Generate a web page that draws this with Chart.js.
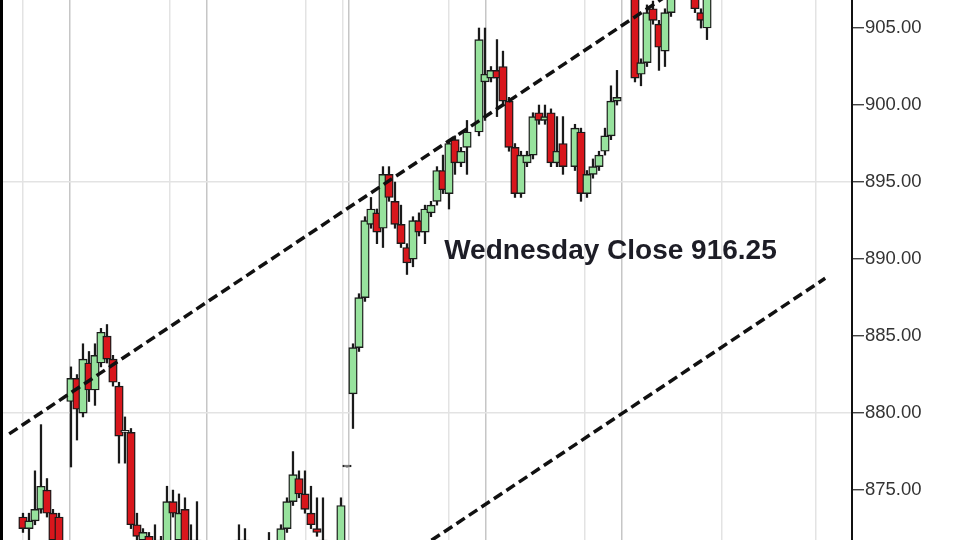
<!DOCTYPE html>
<html>
<head>
<meta charset="utf-8">
<script src="https://cdn.jsdelivr.net/npm/chart.js@4.4.0/dist/chart.umd.min.js"></script>
<style>
  html, body { margin: 0; padding: 0; background: #fff; }
  #wrap { width: 960px; height: 540px; position: relative; }
</style>
</head>
<body>
<div id="wrap"><canvas id="chart"></canvas></div>
<script>
// bar number (one bar per time step, gaps where the bars are missing)
const times = [
  0, 1, 2, 3, 4, 5, 6,
  8, 9, 10, 11, 12, 13, 14, 15, 16, 17, 18, 19, 20, 21, 22, 23, 24, 25, 26, 27, 28, 29,
  36, 37,
  41, 43, 44, 45, 46, 47, 48, 49, 50,
  53, 54, 55, 56, 57, 58, 59, 60, 61, 62,
  63, 64, 65, 66, 67, 68, 69, 70, 71, 72, 73, 74,
  76, 77, 78, 79, 80, 81, 82, 83, 84, 85, 86, 87, 88, 89, 90,
  92, 93, 94, 95, 96, 97, 98, 99,
  102, 103, 104, 105, 106, 107, 108,
  112, 113, 114
];
const opens = [
  873.25, 872.5, 873.0, 873.75, 875.0, 873.5, 873.25,
  880.75, 882.25, 880.0, 883.25, 881.5, 883.25, 885.0, 883.5, 881.75, 878.75, 878.75, 872.75, 871.75, 872.0, 871.0, 871.75, 871.25, 874.25, 871.75, 873.75, 871.25, 871.75,
  871.75, 871.75,
  871.0, 871.25, 872.5, 874.25, 875.75, 874.75, 873.5, 872.5, 871.75,
  871.25, 876.5, 881.25, 884.25, 887.5, 892.25, 893.0, 892.0, 895.5, 893.75,
  892.25, 890.75, 890.0, 892.5, 891.75, 893.0, 893.75, 895.75, 894.25, 897.75, 896.25, 897.25,
  898.25, 901.5, 901.75, 902.25, 902.5, 900.25, 897.25, 894.25, 896.25, 896.75, 899.5, 899.0, 899.5, 896.25, 897.5,
  896.0, 898.25, 894.25, 895.5, 896.0, 897.0, 898.0, 900.25,
  907.0, 902.0, 902.75, 906.25, 905.25, 903.5, 906.0,
  907.0, 906.0, 905.0
];
const highs = [
  873.5, 873.5, 876.25, 879.25, 875.75, 873.75, 873.5,
  883.0, 882.5, 884.5, 884.0, 884.5, 885.5, 885.75, 883.75, 882.0, 879.75, 879.0, 873.5, 872.5, 872.25, 872.75, 872.0, 875.25, 875.0, 874.75, 874.5, 872.75, 874.25,
  872.75, 872.5,
  872.25, 872.75, 874.5, 877.5, 876.25, 876.25, 875.25, 874.5, 874.5,
  874.5, 876.5, 884.5, 887.75, 892.75, 894.0, 893.25, 896.0, 896.0, 895.0,
  893.5, 891.0, 892.75, 893.0, 893.5, 893.75, 896.0, 896.75, 897.75, 898.0, 897.25, 899.0,
  905.0, 905.0, 902.5, 904.25, 903.5, 900.5, 897.5, 897.0, 897.0, 899.5, 900.0, 900.0, 899.75, 899.25, 899.25,
  898.75, 898.5, 895.75, 896.5, 897.0, 898.5, 901.25, 902.25,
  907.25, 903.0, 906.5, 906.75, 905.5, 906.25, 907.5,
  907.25, 906.25, 907.25
];
const lows = [
  872.25, 871.75, 872.75, 873.5, 873.25, 871.5, 870.5,
  876.5, 878.25, 879.75, 880.75, 880.5, 883.0, 883.25, 881.75, 876.75, 876.75, 872.5, 871.75, 871.5, 871.0, 870.75, 871.0, 871.0, 873.25, 871.5, 871.25, 871.0, 871.0,
  871.25, 871.0,
  870.75, 871.0, 872.25, 874.0, 874.5, 873.5, 872.5, 872.0, 871.0,
  871.0, 876.5, 879.0, 884.0, 887.25, 892.0, 891.0, 890.75, 893.75, 892.0,
  890.75, 889.0, 889.5, 891.5, 891.0, 892.75, 893.5, 894.25, 893.25, 895.5, 896.0, 895.5,
  898.0, 899.0, 901.5, 899.25, 900.0, 897.0, 894.0, 894.0, 896.0, 896.5, 898.75, 898.75, 896.0, 896.0, 895.5,
  895.75, 893.75, 894.0, 895.25, 895.75, 896.75, 897.75, 900.0,
  901.5, 901.25, 902.5, 905.25, 902.25, 902.5, 905.75,
  906.0, 905.0, 904.25
];
const closes = [
  872.5, 873.0, 873.75, 875.25, 873.5, 871.75, 870.75,
  882.25, 880.25, 883.5, 881.5, 883.75, 885.25, 883.5, 882.0, 878.5, 878.75, 872.75, 872.0, 872.25, 871.25, 871.5, 871.25, 874.25, 873.5, 873.5, 871.5, 871.75, 871.25,
  871.5, 871.5,
  871.25, 872.5, 874.25, 876.0, 874.75, 873.75, 872.75, 872.25, 871.25,
  874.0, 876.5, 884.25, 887.5, 892.5, 893.25, 891.75, 895.5, 894.0, 892.25,
  891.0, 889.75, 892.5, 891.75, 893.25, 893.5, 895.75, 894.5, 897.5, 896.25, 897.0, 898.25,
  904.25, 902.0, 902.25, 901.75, 900.25, 897.25, 894.25, 896.75, 896.75, 899.25, 899.0, 899.25, 896.25, 897.0, 896.0,
  898.5, 894.25, 895.5, 896.0, 896.75, 898.0, 900.25, 900.5,
  901.75, 902.75, 906.0, 905.5, 903.75, 906.0, 907.0,
  906.25, 905.5, 907.0
];

// channel lines (start / end points)
const upperTimes = [-2.3, 110];
const upperPrices = [878.65, 907.8];
const lowerTimes = [66, 133.7];
const lowerPrices = [871.2, 888.75];

const yTicks = [875, 880, 885, 890, 895, 900, 905];
const yGridPrices = [880, 895];
const gridTimes = [0, 7.8, 24.5, 30.7, 47.2, 53.3, 54.3, 71, 77.2, 93.7, 99.8, 116.5, 132.2];
const sessionTimes = [7.8, 30.7, 54.3, 77.2, 99.8];

const noteText = "Wednesday Close 916.25";
const noteTime = 70.2;
const notePrice = 890.0;

Chart.defaults.font.family = "'Liberation Sans', Arial, sans-serif";

const wickData = times.map((t, i) => ({ x: t, y: [lows[i], highs[i]] }));
const bodyData = times.map((t, i) => ({ x: t, y: [opens[i], closes[i]] }));
const bodyColors = times.map((t, i) => {
  if (closes[i] > opens[i]) return "#97e29d";
  if (closes[i] < opens[i]) return "#d8161c";
  return "#ffffff";
});

const notePlugin = {
  id: "note",
  afterDatasetsDraw(chart) {
    const { ctx, chartArea, scales } = chart;
    ctx.save();
    ctx.font = "bold 28px 'Liberation Sans', Arial, sans-serif";
    ctx.fillStyle = "#1d1d26";
    ctx.textBaseline = "alphabetic";
    ctx.fillText(noteText, scales.x.getPixelForValue(noteTime), scales.y.getPixelForValue(notePrice));
    // left frame edge
    ctx.fillStyle = "#000";
    ctx.fillRect(0, chartArea.top, 3, chartArea.bottom - chartArea.top);
    ctx.restore();
  }
};

new Chart(document.getElementById("chart"), {
  type: "bar",
  data: {
    datasets: [
      {
        data: wickData,
        backgroundColor: "#1a1a1a",
        barThickness: 1.6,
        grouped: false,
        order: 2
      },
      {
        data: bodyData,
        backgroundColor: bodyColors,
        borderColor: "#1a1a1a",
        borderWidth: 1.4,
        borderSkipped: false,
        barThickness: 8.5,
        minBarLength: 2,
        grouped: false,
        order: 1
      },
      {
        type: "line",
        data: upperTimes.map((t, i) => ({ x: t, y: upperPrices[i] })),
        borderColor: "#111",
        borderWidth: 3.5,
        borderDash: [10, 5],
        pointRadius: 0,
        order: 0
      },
      {
        type: "line",
        data: lowerTimes.map((t, i) => ({ x: t, y: lowerPrices[i] })),
        borderColor: "#111",
        borderWidth: 3.5,
        borderDash: [10, 5],
        pointRadius: 0,
        order: 0
      }
    ]
  },
  options: {
    responsive: true,
    maintainAspectRatio: false,
    animation: false,
    events: [],
    layout: { padding: { left: 3, top: 0, right: 0, bottom: 0 } },
    plugins: {
      legend: { display: false },
      tooltip: { enabled: false }
    },
    scales: {
      x: {
        type: "linear",
        min: -3.33,
        max: 138.17,
        offset: false,
        afterBuildTicks: s => { s.ticks = gridTimes.map(v => ({ value: v })); },
        ticks: { display: false },
        border: { display: false },
        grid: {
          offset: false,
          drawTicks: false,
          lineWidth: 1.5,
          color: c => sessionTimes.includes(c.tick && c.tick.value) ? "#c6c6c6" : "#e3e3e3"
        }
      },
      y: {
        position: "right",
        min: 871.76,
        max: 906.82,
        afterBuildTicks: s => { s.ticks = yTicks.map(v => ({ value: v })); },
        afterFit: s => {
          s.width = 108;
          s.paddingTop = 0;
          s.paddingBottom = 0;
        },
        border: { color: "#111", width: 2 },
        grid: {
          lineWidth: 1.5,
          color: c => yGridPrices.includes(c.tick && c.tick.value) ? "#e3e3e3" : "rgba(0,0,0,0)",
          tickColor: "#222",
          tickLength: 12,
          tickWidth: 1.2
        },
        ticks: {
          padding: 1,
          color: "#333",
          font: { size: 18.5 },
          callback: v => v.toFixed(2)
        }
      }
    }
  },
  plugins: [notePlugin]
});
</script>
</body>
</html>
